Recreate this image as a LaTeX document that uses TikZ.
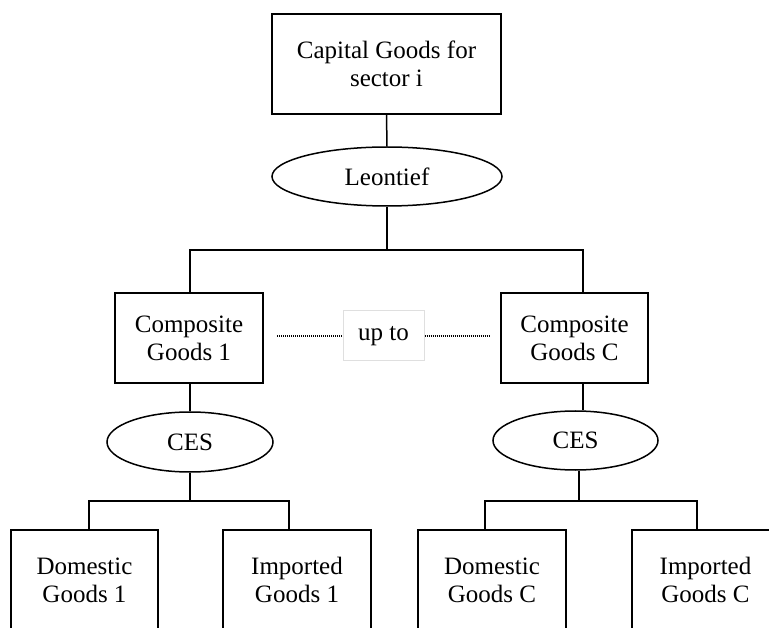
\documentclass[tikz,border=0pt]{standalone}
\usepackage{fontspec}
\setmainfont{Liberation Serif}
\usetikzlibrary{shapes.geometric}
\begin{document}
\begin{tikzpicture}[x=1pt,y=-1pt,
  txt/.style={font=\fontsize{25}{28}\selectfont},
  box/.style={txt,draw,line width=1.5pt,inner sep=0pt,align=center},
  oval/.style={txt,draw,ellipse,line width=1.5pt,inner sep=0pt},
  link/.style={line width=1.5pt},
  dots/.style={line width=1.3pt,dash pattern=on 1pt off 1pt}]
\useasboundingbox (0,0) rectangle (769,628);
\clip (0,0) rectangle (769,628);
% nodes
\node[box,minimum width=229pt,minimum height=100pt] (top) at (386.5,64) {Capital Goods for\\sector i};
\node[oval,minimum width=230pt,minimum height=59pt] (leo) at (387,176.5) {Leontief};
\node[box,minimum width=148pt,minimum height=90pt] (comp1) at (189,338) {Composite\\Goods 1};
\node[box,minimum width=147pt,minimum height=90pt] (compC) at (574.5,338) {Composite\\Goods C};
\node[txt,draw=gray!25,line width=1pt,minimum width=81pt,minimum height=50pt,inner sep=0pt] (upto) at (383.5,336) {up to};
\node[oval,minimum width=166pt,minimum height=60pt] (ces1) at (190,442) {CES};
\node[oval,minimum width=165pt,minimum height=59pt] (cesC) at (575.5,440.5) {CES};
\node[box,minimum width=147pt,minimum height=100pt] (dom1) at (84.5,580) {Domestic\\Goods 1};
\node[box,minimum width=148pt,minimum height=100pt] (imp1) at (297,580) {Imported\\Goods 1};
\node[box,minimum width=148pt,minimum height=100pt] (domC) at (492,580) {Domestic\\Goods C};
\node[box,minimum width=147pt,minimum height=100pt] (impC) at (705.5,580) {Imported\\Goods C};
% junction coordinates
\coordinate (jA) at (387,250);
\coordinate (bL) at (190,250);
\coordinate (bR) at (583,250);
\coordinate (h1a) at (89,501);
\coordinate (h1b) at (289,501);
\coordinate (h1c) at (190,501);
\coordinate (h2a) at (485,501);
\coordinate (h2b) at (697,501);
\coordinate (h2c) at (579,501);
\coordinate (dl) at (277,336);
\coordinate (dr) at (490,336);
% connectors
\draw[link] (top.south) -- (leo.north);
\draw[link] (leo.south) -- (jA);
\draw[link] (bL |- comp1.north) -- (bL) -- (bR) -- (bR |- compC.north);
\draw[link] (comp1.south -| h1c) -- (ces1.north -| h1c);
\draw[link] (compC.south -| bR) -- (cesC.north -| bR);
\draw[link] (ces1.south) -- (h1c);
\draw[link] (cesC.south -| h2c) -- (h2c);
\draw[link] (h1a |- dom1.north) -- (h1a) -- (h1b) -- (h1b |- imp1.north);
\draw[link] (h2a |- domC.north) -- (h2a) -- (h2b) -- (h2b |- impC.north);
\draw[dots] (dl) -- (upto.west);
\draw[dots] (upto.east) -- (dr);
\end{tikzpicture}
\end{document}
